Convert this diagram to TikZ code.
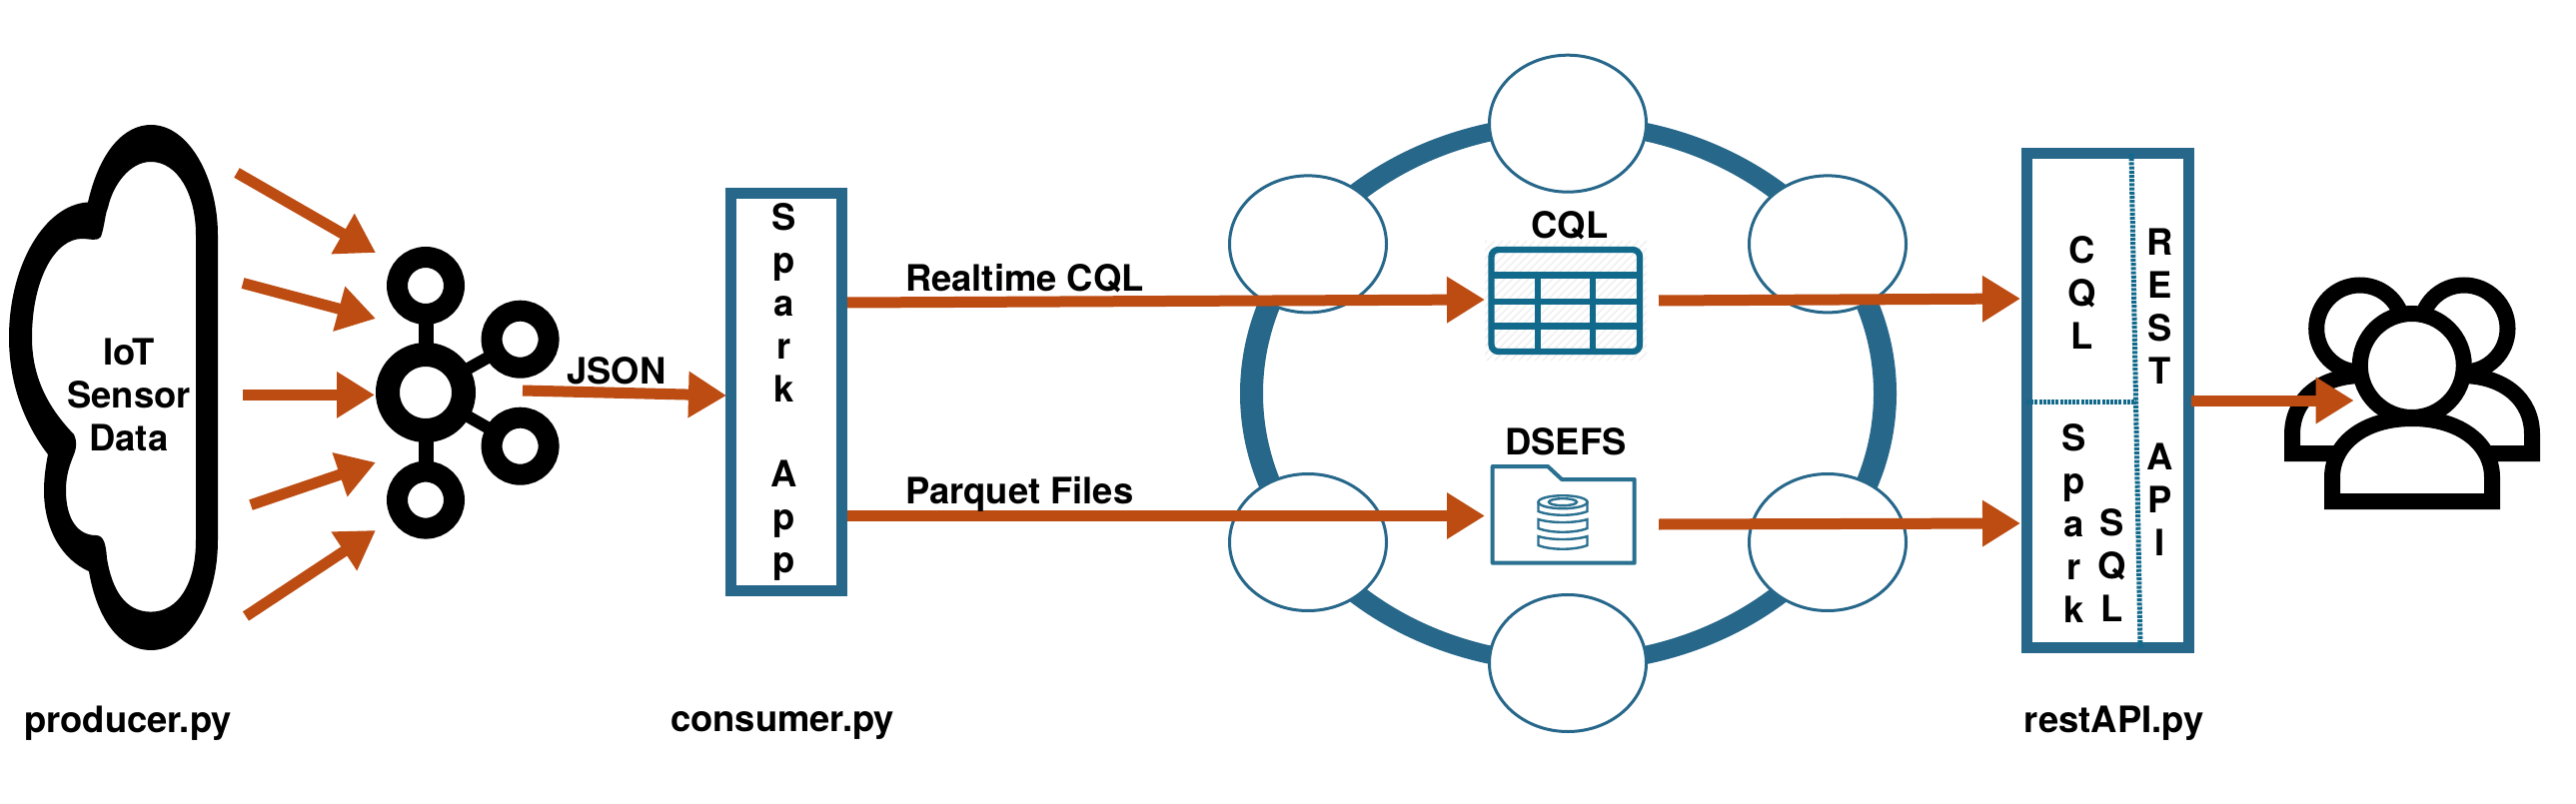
\documentclass[tikz,border=0pt]{standalone}
\usepackage{fontspec}
\setmainfont{TeX Gyre Heros}
\usetikzlibrary{arrows.meta,shapes.geometric}
\definecolor{rust}{HTML}{BC4C12}
\definecolor{steel}{HTML}{27678A}
\definecolor{tealb}{HTML}{116A8C}
\definecolor{folderb}{HTML}{2A7090}
\tikzset{
  flow/.style={draw=rust,line width=11pt,-{Triangle[length=38pt,width=44pt,fill=rust,color=rust]}},
  lbl/.style={font=\fontsize{36.4}{42.9}\selectfont\bfseries,inner sep=0pt,outer sep=0pt,anchor=base,text=black},
  stack/.style={font=\fontsize{36.4}{42.9}\selectfont\bfseries,inner sep=0pt,outer sep=0pt,align=center,anchor=base,text=black},
  boxnode/.style={rectangle,draw=steel,fill=white,line width=11pt,inner sep=0pt},
  ringnode/.style={ellipse,draw=steel,fill=white,line width=3pt,inner sep=0pt,minimum width=157pt,minimum height=137pt},
  hubring/.style={circle,draw=black,fill=white,line width=24pt,inner sep=0pt,minimum size=76pt},
  leafring/.style={circle,draw=black,fill=white,line width=21pt,inner sep=0pt,minimum size=57pt},
  userpart/.style={draw=black,fill=white,line width=16pt,line join=miter},
  dots/.style={draw=tealb,line width=5pt,dash pattern=on 3pt off 1.2pt},
  cyl/.style={draw=folderb,line width=2.4pt,fill=white},
}
\begin{document}
\begin{tikzpicture}[x=1pt,y=-1pt]
\useasboundingbox (0,0) rectangle (2578,805);
\fill[white] (0,0) rectangle (2578,805);

% cloud
\fill[black,even odd rule]
  (151,125) .. controls (190,125) and (218,180) .. (218,235) -- (218,541)
  .. controls (218,600) and (190,651) .. (151,651)
  .. controls (120,651) and (97,620) .. (89,572)
  .. controls (62,560) and (44,530) .. (44,491)
  .. controls (44,478) and (46,465) .. (48,455)
  .. controls (25,425) and (9,385) .. (9,338)
  .. controls (9,265) and (45,205) .. (88,202.5)
  .. controls (100,150) and (125,125) .. (151,125) -- cycle
  (151,162) .. controls (178,162) and (196,195) .. (196,235) -- (196,541)
  .. controls (196,585) and (178,612.6) .. (151,612.6)
  .. controls (125,612.6) and (112,590) .. (107,559)
  .. controls (106,545) and (104,536) .. (96,536)
  .. controls (78,536) and (66,520) .. (66,491)
  .. controls (66,475) and (70,465) .. (74,455)
  .. controls (77,447) and (77,442) .. (74,435)
  .. controls (50,410) and (32,380) .. (32,338)
  .. controls (32,280) and (55,239) .. (82,239)
  .. controls (90,239) and (98,242) .. (101,237)
  .. controls (105,225) and (105,215) .. (108,208)
  .. controls (113,185) and (130,162) .. (151,162) -- cycle;
\node[stack] (iot) at (129,451) {IoT\\Sensor\\Data};

% hub icon
\node[hubring] (hub) at (426,393) {};
\node[leafring] (leafA) at (426,286) {};
\node[leafring] (leafB) at (426,500.6) {};
\node[leafring] (leafC) at (520.6,339.7) {};
\node[leafring] (leafD) at (520.6,446.7) {};
\draw[line width=15pt,shorten >=-3pt,shorten <=-3pt] (hub) -- (leafA);
\draw[line width=15pt,shorten >=-3pt,shorten <=-3pt] (hub) -- (leafB);
\draw[line width=12pt,shorten >=-3pt,shorten <=-3pt] (hub) -- (leafC);
\draw[line width=12pt,shorten >=-3pt,shorten <=-3pt] (hub) -- (leafD);

% arrows into hub
\coordinate (a1s) at (237,173);   \coordinate (a1e) at (376,253);
\coordinate (a2s) at (243,283.5); \coordinate (a2e) at (376,319);
\coordinate (a3s) at (243,395.4); \coordinate (a3e) at (375,395.4);
\coordinate (a4s) at (251,505.6); \coordinate (a4e) at (376,463);
\coordinate (a5s) at (246,617);   \coordinate (a5e) at (376,531);
\draw[flow] (a1s) -- (a1e);
\draw[flow] (a2s) -- (a2e);
\draw[flow] (a3s) -- (a3e);
\draw[flow] (a4s) -- (a4e);
\draw[flow] (a5s) -- (a5e);

% spark box
\node[boxnode,minimum width=111pt,minimum height=397pt] (spark) at (787,392.5) {};
\coordinate (j1) at (523,391); \coordinate (j2) at (727,396);
\draw[flow] (j1) -- (j2);
\node[lbl] (json) at (617,384) {JSON};
\node[stack] (sparktxt) at (785,573.6) {S\\p\\a\\r\\k\\\mbox{}\\A\\p\\p};

% ring
\fill[steel,even odd rule] (1569.5,394) ellipse [x radius=328.5pt,y radius=279pt]
                           (1569.5,394) ellipse [x radius=305.5pt,y radius=261pt];
\node[ringnode] (n1) at (1569,123.7) {};
\node[ringnode] (n2) at (1309,244.4) {};
\node[ringnode] (n3) at (1829,244.4) {};
\node[ringnode] (n4) at (1309,543) {};
\node[ringnode] (n5) at (1829,543) {};
\node[ringnode] (n6) at (1569,664) {};

% table icon
\begin{scope}
  \clip (1486,241) rectangle (1648,361);
  \foreach \i in {1360,1368,...,1650} \draw[black!7,line width=1.2pt] (\i,361) -- (\i+120,241);
\end{scope}
\node[lbl] (cqlt) at (1571,239) {CQL};
\draw[tealb,line width=6.3pt,rounded corners=7pt] (1492.5,250) rectangle (1641,352);
\draw[tealb,line width=6.3pt] (1492.5,275.5) -- (1641,275.5)
  (1492.5,301.8) -- (1641,301.8) (1492.5,326.5) -- (1641,326.5)
  (1539.3,275.5) -- (1539.3,352) (1594.3,275.5) -- (1594.3,352);

% folder icon
\node[lbl] (dsefs) at (1567,455) {DSEFS};
\draw[folderb,line width=4pt,line join=round]
  (1493.7,563.7) -- (1493.7,467) -- (1549,467) -- (1563,480) -- (1635.7,480) -- (1635.7,563.7) -- cycle;
% database
\foreach \dy in {34,17} {
  \draw[cyl] (1539.5,503+\dy) -- (1539.5,512+\dy) .. controls (1552,517+\dy) and (1576,517+\dy) .. (1588.5,512+\dy) -- (1588.5,503+\dy) .. controls (1576,507+\dy) and (1552,507+\dy) .. (1539.5,503+\dy) -- cycle;
}
\draw[cyl] (1539.5,503) -- (1539.5,512) .. controls (1552,517) and (1576,517) .. (1588.5,512) -- (1588.5,503) -- cycle;
\draw[cyl] (1564,502.7) ellipse [x radius=24.5pt,y radius=6.5pt];
\draw[cyl] (1564,502.7) ellipse [x radius=14pt,y radius=3.5pt];

% flows across ring
\coordinate (r1) at (848,303);   \coordinate (r2) at (1486,300);
\coordinate (p1) at (848,516.5); \coordinate (p2) at (1486,516.5);
\draw[flow] (r1) -- (r2);
\draw[flow] (p1) -- (p2);
\node[lbl,anchor=base west] (realtime) at (906,291.7) {Realtime CQL};
\node[lbl,anchor=base west] (parquet) at (906,504) {Parquet Files};

% REST box
\node[boxnode,minimum width=162pt,minimum height=495pt] (rest) at (2109.5,401) {};
\draw[dots] (2133,154) -- (2142,648.5);
\draw[dots] (2028,402) -- (2138,402);
\node[stack] (cqlv) at (2084,349.5) {C\\Q\\L};
\node[stack] (restv) at (2161.5,556) {R\\E\\S\\T\\\mbox{}\\A\\P\\I};
\node[stack] (sparkv) at (2076,623) {S\\p\\a\\r\\k};
\node[stack] (sqlv) at (2114,622.5) {S\\Q\\L};
\coordinate (c1) at (1660,301); \coordinate (c2) at (2022,299);
\coordinate (d1) at (1660,525); \coordinate (d2) at (2022,524);
\draw[flow] (c1) -- (c2);
\draw[flow] (d1) -- (d2);

% users icon
\draw[userpart] (2350,454) -- (2294,454) -- (2294,435) .. controls (2294,400) and (2322,376) .. (2365,376) -- (2400,376) -- (2400,454) -- cycle;
\draw[userpart] (2478,454) -- (2534,454) -- (2534,435) .. controls (2534,400) and (2506,376) .. (2463,376) -- (2428,376) -- (2428,454) -- cycle;
\draw[userpart] (2361.7,329) circle [radius=43.5pt];
\draw[userpart] (2466,329) circle [radius=43.5pt];
\draw[userpart] (2413.8,366) circle [radius=52pt];
\draw[userpart] (2334,502) -- (2334,478) .. controls (2334,445) and (2365,419) .. (2414,419) .. controls (2463,419) and (2494,445) .. (2494,478) -- (2494,502) -- cycle;
\coordinate (u1) at (2192.7,401); \coordinate (u2) at (2355.7,401);
\draw[flow] (u1) -- (u2);

% file names
\node[lbl] (prod) at (128,733) {producer.py};
\node[lbl] (cons) at (783,732) {consumer.py};
\node[lbl] (restpy) at (2115.5,733) {restAPI.py};
\end{tikzpicture}
\end{document}
